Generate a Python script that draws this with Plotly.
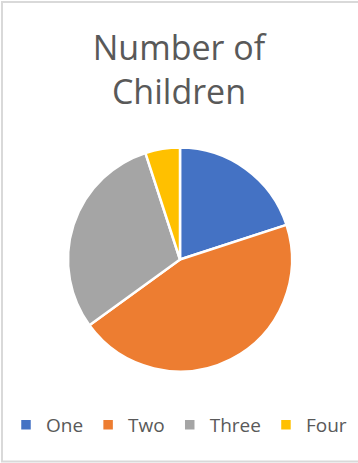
import plotly.graph_objects as go

categories = ["One", "Two", "Three", "Four"]
values = [4, 9, 6, 1]
colors = ["#4472C4", "#ED7D31", "#A5A5A5", "#FFC000"]
title_text = "Number of<br>Children"

W, H = 358, 463

fig = go.Figure(go.Pie(
    labels=categories,
    values=values,
    sort=False,
    direction="clockwise",
    rotation=0,
    textinfo="none",
    hoverinfo="label+value+percent",
    marker=dict(colors=colors, line=dict(color="white", width=2.5)),
    domain=dict(x=[68 / W, 292 / W], y=[1 - 371.5 / H, 1 - 147.5 / H]),
))

fig.update_layout(
    width=W, height=H,
    margin=dict(l=0, r=0, t=0, b=0),
    paper_bgcolor="white",
    plot_bgcolor="white",
    font=dict(family="Open Sans", color="#595959"),
    title=dict(text=title_text, x=0.5, xanchor="center",
               y=1 - 60 / H, yref="container", yanchor="middle",
               font=dict(size=34, color="#595959", family="Open Sans")),
    showlegend=True,
    legend=dict(orientation="h", x=0.5, xanchor="center",
                y=1 - 425 / H, yanchor="middle",
                font=dict(size=19, color="#595959"),
                itemwidth=30, traceorder="normal"),
    shapes=[dict(type="rect", xref="paper", yref="paper",
                 x0=2 / W, x1=1.05, y0=1 - 461.5 / H, y1=1 - 2 / H,
                 line=dict(color="#D9D9D9", width=2), fillcolor="rgba(0,0,0,0)",
                 layer="below")],
)

fig.write_html("out.html")
